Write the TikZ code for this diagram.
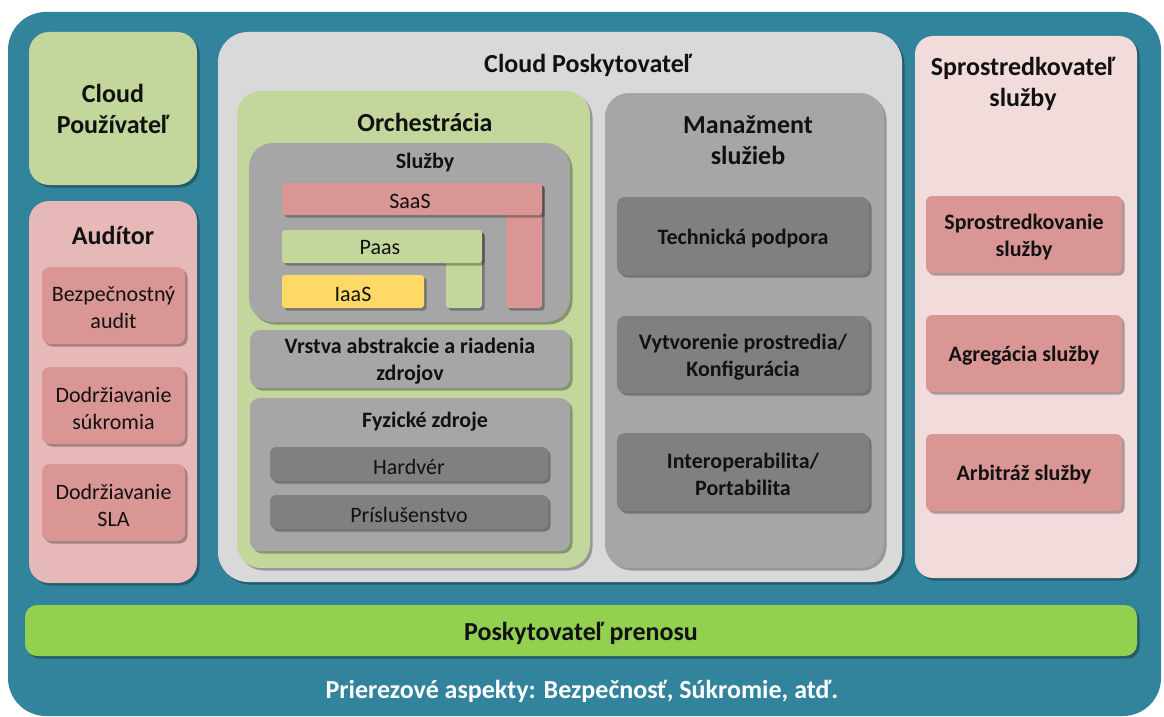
\documentclass[tikz,border=0pt]{standalone}
\usepackage{fontspec}
\setmainfont{Carlito}
\usetikzlibrary{shadows}

\definecolor{cTeal}{HTML}{31849B}
\definecolor{cLeaf}{HTML}{C3D69B}
\definecolor{cRose}{HTML}{E6B9B8}
\definecolor{cBrick}{HTML}{D99694}
\definecolor{cBlush}{HTML}{F2DCDB}
\definecolor{cSilver}{HTML}{D9D9D9}
\definecolor{cStone}{HTML}{A6A6A6}
\definecolor{cSlate}{HTML}{808080}
\definecolor{cLime}{HTML}{92D050}
\definecolor{cSun}{HTML}{FFD966}
\definecolor{cInk}{HTML}{111111}

\newcommand\fTitle{\fontsize{26}{31}\selectfont\bfseries}
\newcommand\fSub{\fontsize{22}{27}\selectfont\bfseries}
\newcommand\fItem{\fontsize{22}{27}\selectfont}

% a rectangular box given by its top-left and bottom-right corners (in px),
% with its text set as a separate node slightly below the box centre
\newcommand\panel[8]{%
  \node[#6, anchor=north west, minimum width={#4-#2}, minimum height={#5-#3}]
    (#1) at (#2,#3) {};
  \node[#7] (#1-text) at ([yshift=-2.5pt]#1.center) {#8};}

\tikzset{
  every node/.style={inner sep=0pt, outer sep=0pt, text=cInk, align=center},
  castshadow/.style={drop shadow={shadow xshift=2.5pt, shadow yshift=-2.5pt,
      opacity=0.3, fill=black}},
  panelbox/.style={castshadow, rounded corners=#1},
  panelbox/.default=8pt,
  titletext/.style={font=\fTitle},
  subtext/.style={font=\fSub},
  itemtext/.style={font=\fItem},
}

\begin{document}
\begin{tikzpicture}[x=1pt, y=-1pt]
\useasboundingbox (0,0) rectangle (1164,717);

% outer frame
\node[fill=cTeal, rounded corners=38pt, anchor=north west,
      minimum width=1153, minimum height=704] (frame) at (8,12) {};

% cloud consumer
\panel{consumer}{29}{32}{197}{185}{panelbox=20pt, fill=cLeaf}{titletext}{}
\node[titletext] (consumerT) at (113,109) {Cloud\\Používateľ};

% auditor
\panel{auditor}{29}{201}{197}{583}{panelbox=20pt, fill=cRose}{}{}
\node[titletext] (auditorT) at (113,235) {Audítor};
\panel{audA}{42}{267}{185}{344}{panelbox, fill=cBrick}{itemtext}{Bezpečnostný\\audit}
\panel{audB}{42}{367}{185}{444}{panelbox, fill=cBrick}{itemtext}{Dodržiavanie\\súkromia}
\panel{audC}{42}{464}{185}{541}{panelbox, fill=cBrick}{itemtext}{Dodržiavanie\\SLA}

% cloud provider
\panel{provider}{218}{32}{902}{582}{panelbox=30pt, fill=cSilver}{}{}
\node[titletext] (providerT) at (588,65) {Cloud Poskytovateľ};

% orchestration
\panel{orch}{237}{91}{590}{568}{panelbox=24pt, fill=cLeaf}{}{}
\node[titletext] (orchT) at (425,122) {Orchestrácia};

\panel{services}{249}{143}{570}{322}{panelbox=24pt, fill=cStone}{}{}
\node[subtext] (servicesT) at (425,163) {Služby};

\panel{saasV}{506}{183}{542}{308}{panelbox=3pt, fill=cBrick}{}{}
\panel{saasH}{282}{183}{542}{215}{panelbox=3pt, fill=cBrick}{}{}
\node[itemtext] (saasT) at (410,201) {SaaS};
\panel{paasV}{446}{230}{482}{308}{panelbox=3pt, fill=cLeaf}{}{}
\panel{paasH}{282}{230}{482}{263}{panelbox=3pt, fill=cLeaf}{}{}
\node[itemtext] (paasT) at (380,248) {Paas};
\panel{iaas}{282}{275}{424}{308}{panelbox=3pt, fill=cSun}{itemtext}{IaaS}

\panel{abstr}{250}{330}{570}{388}{panelbox=10pt, fill=cStone}{subtext}{Vrstva abstrakcie a riadenia\\zdrojov}

\panel{phys}{250}{398}{570}{551}{panelbox=10pt, fill=cStone}{}{}
\node[subtext] (physT) at (425,422) {Fyzické zdroje};
\panel{hw}{270}{447}{548}{481}{panelbox=6pt, fill=cSlate}{itemtext}{Hardvér}
\panel{acc}{270}{495}{548}{529}{panelbox=6pt, fill=cSlate}{itemtext}{Príslušenstvo}

% service management
\panel{mgmt}{605}{93}{884}{568}{panelbox=24pt, fill=cStone}{}{}
\node[titletext] (mgmtT) at (748,140) {Manažment\\služieb};
\panel{mgA}{617}{197}{869}{275}{panelbox, fill=cSlate}{subtext}{Technická podpora}
\panel{mgB}{617}{316}{869}{393}{panelbox, fill=cSlate}{subtext}{Vytvorenie prostredia/\\Konfigurácia}
\panel{mgC}{617}{433}{869}{511}{panelbox, fill=cSlate}{subtext}{Interoperabilita/\\Portabilita}

% service broker
\panel{broker}{915}{36}{1137}{578}{panelbox=18pt, fill=cBlush}{}{}
\node[titletext] (brokerT) at (1023,84) {Sprostredkovateľ\\služby};
\panel{brA}{926}{196}{1122}{273}{panelbox=6pt, fill=cBrick}{subtext}{Sprostredkovanie\\služby}
\panel{brB}{926}{315}{1122}{392}{panelbox=6pt, fill=cBrick}{subtext}{Agregácia služby}
\panel{brC}{926}{434}{1122}{511}{panelbox=6pt, fill=cBrick}{subtext}{Arbitráž služby}

% carrier
\panel{carrier}{25}{605}{1137}{656}{panelbox=12pt, fill=cLime}{titletext}{Poskytovateľ prenosu}

% cross-cutting aspects
\node[titletext, text=white] (aspects) at (582,691) {Prierezové aspekty: Bezpečnosť, Súkromie, atď.};
\end{tikzpicture}
\end{document}
